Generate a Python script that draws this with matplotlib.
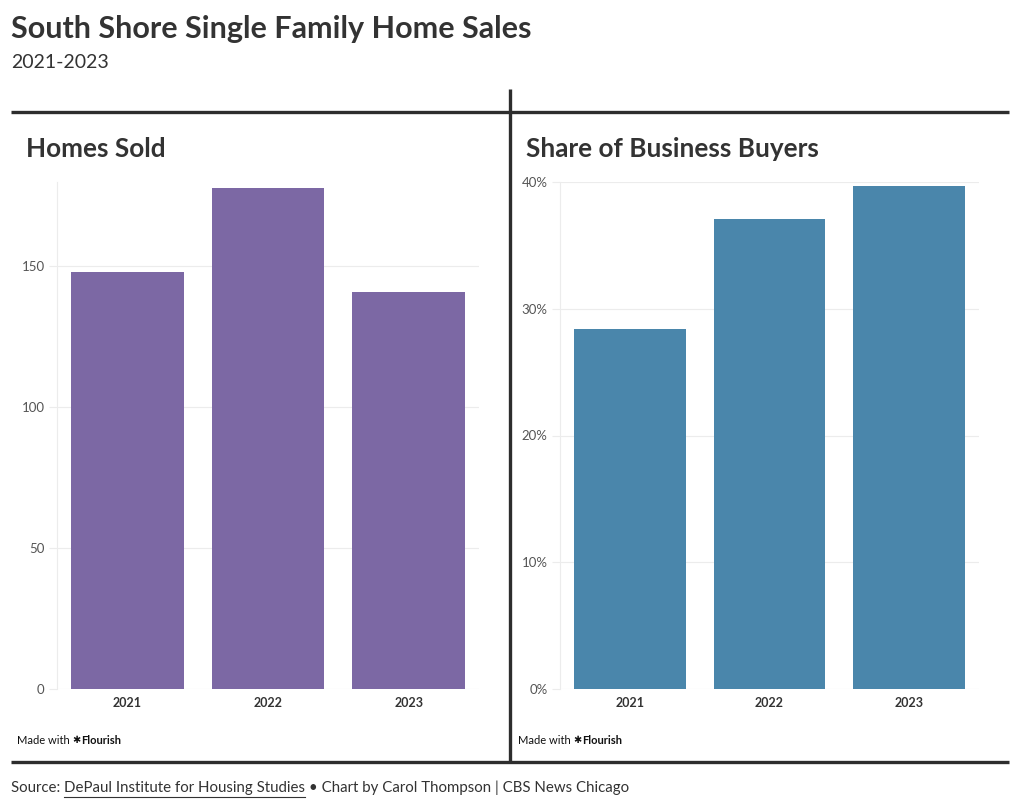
import matplotlib
matplotlib.use('Agg')
import matplotlib.pyplot as plt
from matplotlib.lines import Line2D
from matplotlib.ticker import FuncFormatter

# data
years = ['2021', '2022', '2023']
homes_sold = [148, 178, 141]
business_share = [28.4, 37.1, 39.7]

homes_ticks = [0, 50, 100, 150]
share_ticks = [0, 10, 20, 30, 40]

purple = '#7c68a4'
blue = '#4a86ab'
dark = '#2d2d2d'
text_col = '#333333'
grid_col = '#ececec'

plt.rcParams['font.family'] = ['Lato', 'DejaVu Sans']

W, H = 1020, 808
fig = plt.figure(figsize=(W / 100, H / 100), dpi=100)
fig.patch.set_facecolor('white')


def fx(px):
    return px / W


def fy(py):
    return 1 - py / H


def style_axes(ax, ylim, ticks):
    ax.set_xlim(-0.5, 2.5)
    ax.set_ylim(*ylim)
    ax.set_yticks(ticks)
    for side in ['top', 'right', 'bottom']:
        ax.spines[side].set_visible(False)
    ax.spines['left'].set_color(grid_col)
    ax.spines['left'].set_linewidth(0.8)
    ax.grid(axis='y', color=grid_col, linewidth=0.8)
    ax.set_axisbelow(True)
    ax.tick_params(axis='y', length=6, color=grid_col, labelsize=9.5,
                   labelcolor='#555555', pad=3)
    ax.tick_params(axis='x', length=0, labelsize=9, labelcolor=text_col, pad=6)
    for lab in ax.get_xticklabels():
        lab.set_fontweight('bold')


ax1 = fig.add_axes([fx(57), fy(689), fx(479 - 57), (689 - 182) / H])
ax1.bar(years, homes_sold, width=0.8, color=purple)
style_axes(ax1, (0, 180), homes_ticks)

ax2 = fig.add_axes([fx(560), fy(689), fx(979 - 560), (689 - 182) / H])
ax2.bar(years, business_share, width=0.8, color=blue)
style_axes(ax2, (0, 40), share_ticks)
ax2.yaxis.set_major_formatter(FuncFormatter(lambda v, p: f'{v:.0f}%'))

# frame lines
for x0, y0, x1, y1 in [(11, 112, 1009, 112), (11, 762, 1009, 762), (510, 89, 510, 762)]:
    fig.add_artist(Line2D([fx(x0), fx(x1)], [fy(y0), fy(y1)], color=dark,
                          linewidth=2.4, solid_capstyle='butt'))

# titles
fig.text(fx(11), fy(29), 'South Shore Single Family Home Sales', fontsize=22,
         fontweight='bold', color=text_col, va='center')
fig.text(fx(11), fy(63), '2021-2023', fontsize=14, color=text_col, va='center')
fig.text(fx(26), fy(149), 'Homes Sold', fontsize=18.8, fontweight='bold',
         color=text_col, va='center')
fig.text(fx(526), fy(149), 'Share of Business Buyers', fontsize=18.8,
         fontweight='bold', color=text_col, va='center')

fig.canvas.draw()
renderer = fig.canvas.get_renderer()


def after(t):
    bb = t.get_window_extent(renderer)
    return bb.x1 / W, bb


# made with flourish
for x0 in (17, 518):
    t = fig.text(fx(x0), fy(740), 'Made with ', fontsize=8, color='#111111', va='center')
    x, _ = after(t)
    t = fig.text(x, fy(740), '\u2731', fontsize=7, color='#111111', va='center',
                 family='DejaVu Sans', fontweight='bold')
    x, _ = after(t)
    fig.text(x, fy(740), 'Flourish', fontsize=8, color='#111111', va='center',
             fontweight='bold')

# footer
t = fig.text(fx(11), fy(788), 'Source: ', fontsize=10.85, color=text_col, va='center')
x, _ = after(t)
t = fig.text(x, fy(788), 'DePaul Institute for Housing Studies', fontsize=10.85,
             color=text_col, va='center')
x2, bb = after(t)
fig.add_artist(Line2D([bb.x0 / W, bb.x1 / W], [fy(797), fy(797)], color=text_col,
                      linewidth=0.8))
fig.text(x2, fy(788), ' \u2022 Chart by Carol Thompson | CBS News Chicago',
         fontsize=10.85, color=text_col, va='center')

fig.savefig('out.png', dpi=100)
